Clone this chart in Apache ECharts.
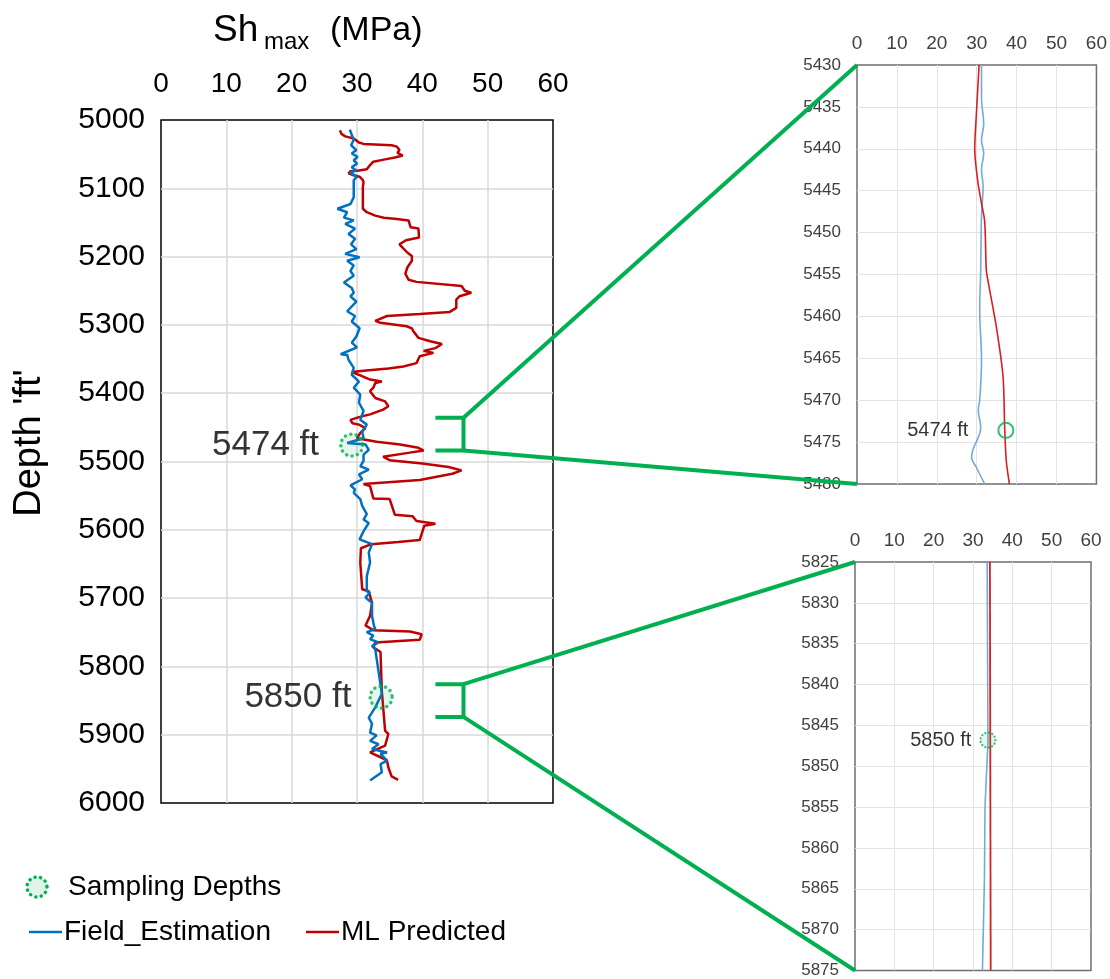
<!DOCTYPE html>
<html><head><meta charset="utf-8">
<script src="https://cdn.jsdelivr.net/npm/echarts@6/dist/echarts.min.js"></script>
<style>html,body{margin:0;padding:0;background:#fff}#c{width:1110px;height:979px}</style>
</head><body><div id="c"></div>
<script>
// ---------- DATA ----------
const xTicks = [0, 10, 20, 30, 40, 50, 60];
const mainDepthRange = [5000, 6000];
const inset1Range = [5430, 5480];
const inset2Range = [5825, 5875];

const fieldDepth = [5014,5022,5029,5037,5044,5049,5054,5059,5064,5069,5074,5077,5083,5088,5113,5123,5130,5135,5143,5147,5152,5159,5167,5174,5182,5189,5196,5201,5206,5213,5221,5228,5238,5246,5253,5258,5266,5280,5287,5295,5305,5317,5326,5333,5343,5344,5351,5363,5373,5383,5392,5402,5414,5426,5439,5446,5456,5466,5473,5475,5483,5490,5499,5507,5512,5519,5526,5535,5541,5546,5555,5565,5577,5585,5590,5602,5614,5621,5633,5648,5668,5690,5692,5699,5707,5726,5741,5745,5750,5755,5760,5765,5770,5775,5840,5860,5875,5884,5897,5901,5909,5914,5921,5926,5928,5938,5943,5955,5967];
const fieldMPa = [28.9,29.2,29.5,29.1,29.9,29.2,30.1,29.5,30.0,29.2,29.9,28.9,30.0,29.5,29.5,29.0,27.0,28.5,28.0,29.5,28.2,29.7,28.7,29.7,29.1,29.9,28.2,30.4,28.5,29.5,29.0,29.5,28.0,29.2,29.5,29.0,29.9,28.5,29.7,29.2,30.4,29.9,29.2,30.0,27.5,28.5,28.7,29.5,29.2,30.3,29.5,30.5,30.3,31.0,30.5,31.5,30.8,31.0,28.5,31.3,31.8,31.0,31.0,30.5,31.8,30.3,30.8,29.0,29.7,29.5,30.5,30.8,31.5,31.0,31.8,31.0,30.4,32.3,31.8,32.0,31.5,31.5,32.0,31.3,32.3,32.3,32.6,32.8,31.5,32.5,32.0,33.3,32.3,32.8,33.8,32.8,31.8,32.3,32.0,33.0,32.0,33.3,32.3,34.6,33.6,34.6,33.6,33.8,32.0];

const mlDepth = [5015,5020,5024,5027,5033,5035,5037,5039,5044,5048,5052,5055,5058,5061,5066,5072,5074,5075,5078,5081,5083,5088,5091,5098,5130,5135,5140,5143,5145,5147,5157,5159,5172,5176,5182,5186,5194,5199,5206,5216,5225,5234,5237,5243,5250,5253,5258,5263,5275,5281,5284,5287,5294,5297,5302,5305,5309,5319,5324,5328,5334,5338,5341,5346,5356,5361,5364,5367,5369,5374,5380,5383,5385,5392,5397,5407,5412,5419,5424,5431,5435,5439,5444,5446,5451,5458,5466,5471,5475,5480,5484,5487,5493,5498,5503,5508,5513,5518,5527,5533,5536,5554,5555,5578,5580,5587,5591,5594,5615,5618,5621,5627,5648,5687,5690,5707,5726,5740,5747,5749,5753,5761,5765,5772,5779,5836,5894,5899,5916,5926,5933,5938,5948,5961,5966];
const mlMPa = [27.4,27.6,28.2,29.5,30.3,31.0,35.3,36.1,36.5,36.2,37.0,35.8,34.1,32.5,32.0,31.5,30.3,29.0,28.7,29.5,30.4,30.9,31.0,30.9,30.9,31.5,32.8,34.1,36.1,37.9,38.2,39.4,39.5,37.5,36.5,36.9,37.7,38.4,38.4,37.7,37.4,37.9,39.1,46.0,46.5,47.5,45.7,45.2,45.2,44.2,39.6,34.6,32.8,33.6,37.6,38.4,38.6,39.4,41.2,43.0,42.0,40.2,41.7,39.6,39.1,37.1,34.8,31.0,29.2,30.5,32.0,33.8,32.8,32.5,32.0,32.8,34.3,34.8,34.0,32.0,30.3,29.0,29.3,30.3,31.3,30.5,30.0,33.0,36.6,39.4,40.2,38.1,34.0,35.0,40.0,44.0,46.0,44.6,39.6,31.0,32.0,32.5,35.0,35.8,38.5,39.1,42.0,40.3,39.6,36.3,32.2,30.6,30.5,30.8,31.8,32.3,32.0,31.3,32.5,38.1,39.9,39.6,32.8,32.5,33.6,33.8,34.3,34.8,34.3,32.0,33.6,34.6,34.8,35.3,36.3];

const inset1FieldDepth = [5430,5434,5437,5439,5440.5,5442.5,5444.5,5448,5454.5,5459.2,5465.2,5470,5471.2,5473.2,5476.8,5478,5480];
const inset1FieldMPa   = [31.2,31.2,31.75,31.2,31.75,31.2,31.6,31.2,31.0,30.75,31.2,30.75,30.4,31.0,28.7,29.9,32.0];
const inset1MlDepth = [5430,5436,5440,5444,5446.5,5448.7,5454.5,5455.7,5461.2,5467.2,5473.2,5477.2,5480];
const inset1MlMPa   = [30.6,29.9,29.5,30.3,31.2,32.0,32.4,32.8,34.9,36.6,37.0,37.4,38.2];

const inset2FieldDepth = [5825,5847,5855,5864,5875];
const inset2FieldMPa   = [33.6,33.8,33.05,32.9,32.4];
const inset2MlDepth = [5825,5875];
const inset2MlMPa   = [34.3,34.5];

const sampleLabels = ['5474 ft', '5850 ft'];
const sampleMainDepth = [5476, 5845];
const sampleMainMPa = [29.2, 33.7];
const sampleInset1 = [37.3, 5473.6];
const sampleInset2 = [33.8, 5846.8];

const bracket1Depth = [5436, 5484];
const bracket2Depth = [5826, 5874];
const bracketMPa = [42.0, 46.3];

// ---------- CHART ----------
const FONT = 'Arial, "Liberation Sans", sans-serif';
const BLUE = '#0070C0', RED = '#C00000', GREEN = '#00B050';
const zip = (xs, ys) => xs.map((v, i) => [v, ys[i]]);

const chart = echarts.init(document.getElementById('c'), null, {renderer: 'canvas'});

function xAx(gi, fs, margin, grid) {
  return {
    gridIndex: gi, type: 'value', position: 'top', min: 0, max: 60, interval: 10,
    axisLine: {show: false}, axisTick: {show: false},
    axisLabel: {fontSize: fs, color: gi === 0 ? '#000' : '#404040', fontFamily: FONT, margin: margin},
    splitLine: {show: true, showMinLine: false, showMaxLine: false, lineStyle: {color: grid, width: gi === 0 ? 1.5 : 1}}
  };
}
function yAx(gi, range, interval, fs, margin, grid) {
  return {
    gridIndex: gi, type: 'value', inverse: true, min: range[0], max: range[1], interval: interval,
    axisLine: {show: false}, axisTick: {show: false},
    axisLabel: {fontSize: fs, color: gi === 0 ? '#000' : '#404040', fontFamily: FONT, margin: margin,
                formatter: v => String(v)},
    splitLine: {show: true, showMinLine: false, showMaxLine: false, lineStyle: {color: grid, width: gi === 0 ? 1.5 : 1}}
  };
}

const sampleStyle = {
  color: 'rgba(0,176,80,0.13)', borderColor: GREEN, borderWidth: 3.5,
  borderType: [0.1, 5.5], borderCap: 'round'
};

const option = {
  backgroundColor: '#fff',
  animation: false,
  grid: [
    {left: 161, top: 120, width: 392, height: 683, show: true, borderColor: '#000', borderWidth: 1.5, backgroundColor: 'transparent'},
    {left: 857, top: 65, width: 240, height: 419, show: true, borderColor: '#6f6f6f', borderWidth: 1.5, backgroundColor: 'transparent'},
    {left: 855, top: 562, width: 236, height: 409, show: true, borderColor: '#6f6f6f', borderWidth: 1.5, backgroundColor: 'transparent'}
  ],
  xAxis: [xAx(0, 28, 22, '#d9d9d9'), xAx(1, 19, 12, '#e3e3e3'), xAx(2, 19, 12, '#e3e3e3')],
  yAxis: [
    yAx(0, mainDepthRange, 100, 30, 16, '#d9d9d9'),
    yAx(1, inset1Range, 5, 17, 16, '#e3e3e3'),
    yAx(2, inset2Range, 5, 17, 16, '#e3e3e3')
  ],
  series: [
    {type: 'line', name: 'Field_Estimation', xAxisIndex: 0, yAxisIndex: 0, showSymbol: false,
     data: zip(fieldMPa, fieldDepth), lineStyle: {color: BLUE, width: 2.5}, z: 3},
    {type: 'line', name: 'ML Predicted', xAxisIndex: 0, yAxisIndex: 0, showSymbol: false,
     data: zip(mlMPa, mlDepth), lineStyle: {color: RED, width: 2.5}, z: 2},
    {type: 'scatter', name: 'Sampling Depths', xAxisIndex: 0, yAxisIndex: 0, symbolSize: 22, z: 5,
     itemStyle: sampleStyle,
     data: sampleMainMPa.map((v, i) => ({
       value: [v, sampleMainDepth[i]],
       label: {show: true, position: 'left', distance: i === 0 ? 20 : 17, formatter: sampleLabels[i],
               fontSize: 35, color: '#000', fontFamily: FONT}
     }))},
    {type: 'line', xAxisIndex: 1, yAxisIndex: 1, showSymbol: false, smooth: 0.4,
     data: zip(inset1FieldMPa, inset1FieldDepth), lineStyle: {color: '#74A9DE', width: 1.6}},
    {type: 'line', xAxisIndex: 1, yAxisIndex: 1, showSymbol: false, smooth: 0.3,
     data: zip(inset1MlMPa, inset1MlDepth), lineStyle: {color: '#D42020', width: 1.6}},
    {type: 'scatter', xAxisIndex: 1, yAxisIndex: 1, symbolSize: 15, z: 5,
     itemStyle: {color: 'rgba(0,0,0,0)', borderColor: GREEN, borderWidth: 2},
     data: [{value: sampleInset1, label: {show: true, position: 'left', distance: 29, formatter: sampleLabels[0],
             fontSize: 20, color: '#000', fontFamily: FONT}}]},
    {type: 'line', xAxisIndex: 2, yAxisIndex: 2, showSymbol: false,
     data: zip(inset2FieldMPa, inset2FieldDepth), lineStyle: {color: '#74A9DE', width: 1.6}},
    {type: 'line', xAxisIndex: 2, yAxisIndex: 2, showSymbol: false,
     data: zip(inset2MlMPa, inset2MlDepth), lineStyle: {color: '#D42020', width: 1.8}},
    {type: 'scatter', xAxisIndex: 2, yAxisIndex: 2, symbolSize: 15, z: 5,
     itemStyle: {color: 'rgba(0,176,80,0.13)', borderColor: GREEN, borderWidth: 2.2, borderType: [0.1, 3.5], borderCap: 'round'},
     data: [{value: sampleInset2, label: {show: true, position: 'left', distance: 8, formatter: sampleLabels[1],
             fontSize: 20, color: '#000', fontFamily: FONT}}]}
  ]
};
chart.setOption(option);

// ---------- annotations (connectors, title, axis name, legend) ----------
const px = (gi, x, y) => chart.convertToPixel({gridIndex: gi}, [x, y]);
function connector(bd, gi, range) {
  const a = px(0, bracketMPa[0], bd[0]), b = px(0, bracketMPa[1], bd[0]);
  const c = px(0, bracketMPa[1], bd[1]), d = px(0, bracketMPa[0], bd[1]);
  const t = px(gi, 0, range[0]), u = px(gi, 0, range[1]);
  const st = {stroke: GREEN, lineWidth: 4, fill: null, lineJoin: 'round'};
  return [
    {type: 'polyline', shape: {points: [a, b, c, d]}, style: st, z: 10},
    {type: 'line', shape: {x1: b[0], y1: b[1], x2: t[0], y2: t[1]}, style: st, z: 10},
    {type: 'line', shape: {x1: c[0], y1: c[1], x2: u[0], y2: u[1]}, style: st, z: 10}
  ];
}
const txt = (x, y, s, fs, extra) => Object.assign({type: 'text', x: x, y: y, z: 20,
  style: {text: s, fontSize: fs, fontFamily: FONT, fill: '#000', verticalAlign: 'middle', align: 'left'}}, extra || {});

chart.setOption({
  graphic: [].concat(
    connector(bracket1Depth, 1, inset1Range),
    connector(bracket2Depth, 2, inset2Range),
    [
      txt(213, 31, 'Sh', 37),
      txt(264, 42, 'max', 24),
      txt(330, 31, '(MPa)', 34),
      {type: 'text', x: 30, y: 443, rotation: Math.PI / 2, z: 20,
       style: {text: "Depth 'ft'", fontSize: 38, fontFamily: FONT, fill: '#000', align: 'center', verticalAlign: 'middle'}},
      {type: 'circle', shape: {cx: 37, cy: 887, r: 10}, z: 20,
       style: {fill: 'rgba(0,176,80,0.13)', stroke: GREEN, lineWidth: 3.5, lineDash: [0.1, 5.5], lineCap: 'round'}},
      txt(68, 887, 'Sampling Depths', 28),
      {type: 'line', shape: {x1: 29, y1: 932, x2: 62, y2: 932}, style: {stroke: BLUE, lineWidth: 2.5}, z: 20},
      txt(64, 932, 'Field_Estimation', 28),
      {type: 'line', shape: {x1: 306, y1: 932, x2: 339, y2: 932}, style: {stroke: RED, lineWidth: 2.5}, z: 20},
      txt(341, 932, 'ML Predicted', 28)
    ]
  )
});
</script></body></html>
